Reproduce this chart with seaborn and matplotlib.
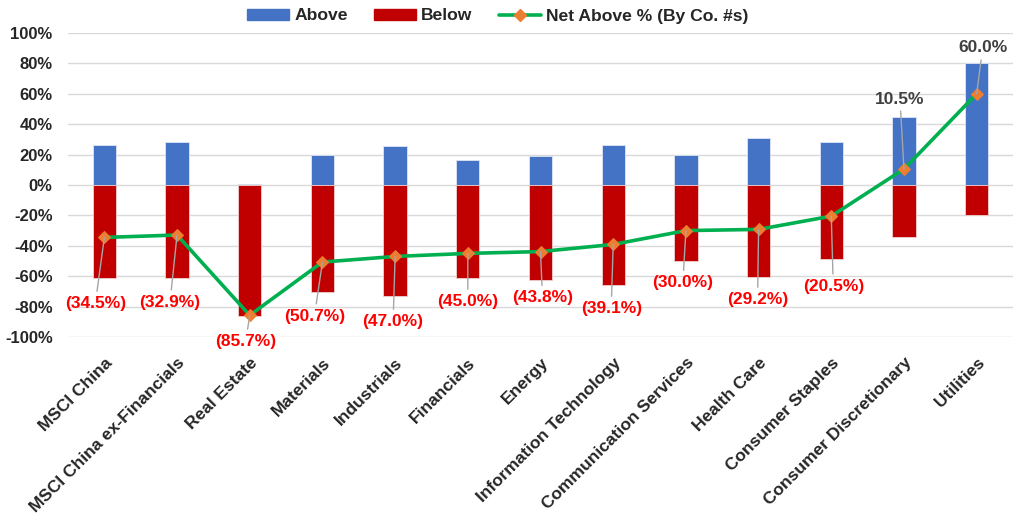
import numpy as np
import pandas as pd
import seaborn as sns
import matplotlib
matplotlib.use("Agg")
import matplotlib.pyplot as plt
from matplotlib.patches import Patch
from matplotlib.lines import Line2D

categories = ["MSCI China", "MSCI China ex-Financials", "Real Estate", "Materials",
              "Industrials", "Financials", "Energy", "Information Technology",
              "Communication Services", "Health Care", "Consumer Staples",
              "Consumer Discretionary", "Utilities"]
above = [26.5, 28.0, 0.5, 19.8, 25.7, 16.5, 18.8, 26.5, 19.9, 31.2, 28.2, 44.8, 80.0]
below = [-61.0, -60.9, -86.2, -70.5, -72.7, -61.5, -62.6, -65.6, -49.9, -60.4, -48.7, -34.3, -20.0]
net_above = [-34.5, -32.9, -85.7, -50.7, -47.0, -45.0, -43.8, -39.1, -30.0, -29.2, -20.5, 10.5, 60.0]

# label offsets (pixels) from each point, to mimic the hand-placed excel labels
label_offsets = [(-9, -66), (-7, -67), (-4, -26), (-8, -54), (-2, -65), (0, -48), (2, -46),
                 (-2, -64), (-3, -52), (-1, -70), (2, -70), (-4, 70), (6, 46)]

BLUE = "#4472C4"
RED = "#C00000"
GREEN = "#00B050"
ORANGE = "#ED7D31"

sns.set_style("white")
plt.rcParams["font.family"] = ["Liberation Sans", "DejaVu Sans"]

df = pd.DataFrame({"category": categories, "above": above, "below": below, "net": net_above})
df["pos"] = np.arange(len(df))

fig = plt.figure(figsize=(10.24, 5.21), dpi=100)
ax = fig.add_axes([68 / 1024, (521 - 337) / 521, (1013 - 68) / 1024, 304 / 521])

sns.barplot(data=df, x="category", y="above", color=BLUE, width=0.32, saturation=1,
            edgecolor="#dfe6f3", linewidth=0.6, ax=ax)
sns.barplot(data=df, x="category", y="below", color=RED, width=0.32, saturation=1,
            edgecolor="#f0d0d0", linewidth=0.6, ax=ax)
sns.lineplot(data=df, x="pos", y="net", color=GREEN, linewidth=2.6, ax=ax,
             marker="D", markersize=6.5, markerfacecolor=ORANGE, markeredgecolor=ORANGE,
             zorder=5)

for i, (v, off) in enumerate(zip(net_above, label_offsets)):
    txt = f"({abs(v):.1f}%)" if v < 0 else f"{v:.1f}%"
    col = "#FF0000" if v < 0 else "#404040"
    ax.annotate(txt, xy=(i, v), xytext=off, textcoords="offset pixels",
                ha="center", va="center", fontsize=12.5, fontweight="bold", color=col,
                arrowprops=dict(arrowstyle="-", color="#A6A6A6", lw=1, shrinkA=1, shrinkB=0),
                zorder=6)

ax.set_xlim(-0.5, len(categories) - 0.5)
ax.set_ylim(-100, 100)
ax.set_yticks(np.arange(-100, 101, 20))
ax.set_yticklabels([f"{t}%" for t in range(-100, 101, 20)], fontsize=12, fontweight="bold")
ax.set_xticks(np.arange(len(categories)))
ax.set_xticklabels(categories, rotation=45, ha="right", rotation_mode="anchor",
                   fontsize=12.5, fontweight="bold")
ax.tick_params(axis="both", length=0)
ax.tick_params(axis="y", pad=11)
ax.tick_params(axis="x", pad=13)
ax.grid(axis="y", color="#D9D9D9", linewidth=1)
ax.set_axisbelow(True)
for s in ax.spines.values():
    s.set_visible(False)
ax.set_xlabel("")
ax.set_ylabel("")

handles = [Patch(color=BLUE, label="Above"), Patch(color=RED, label="Below"),
           Line2D([], [], color=GREEN, lw=2.6, marker="D", markersize=6,
                  markerfacecolor=ORANGE, markeredgecolor=ORANGE, label="Net Above % (By Co. #s)")]
fig.legend(handles=handles, loc="center", bbox_to_anchor=(0.486, 1 - 16 / 521), ncol=3,
           frameon=False, prop={"weight": "bold", "size": 12.6}, handlelength=2.4,
           handleheight=0.6, columnspacing=1.5, handletextpad=0.3)

fig.savefig("out.png", dpi=100)
